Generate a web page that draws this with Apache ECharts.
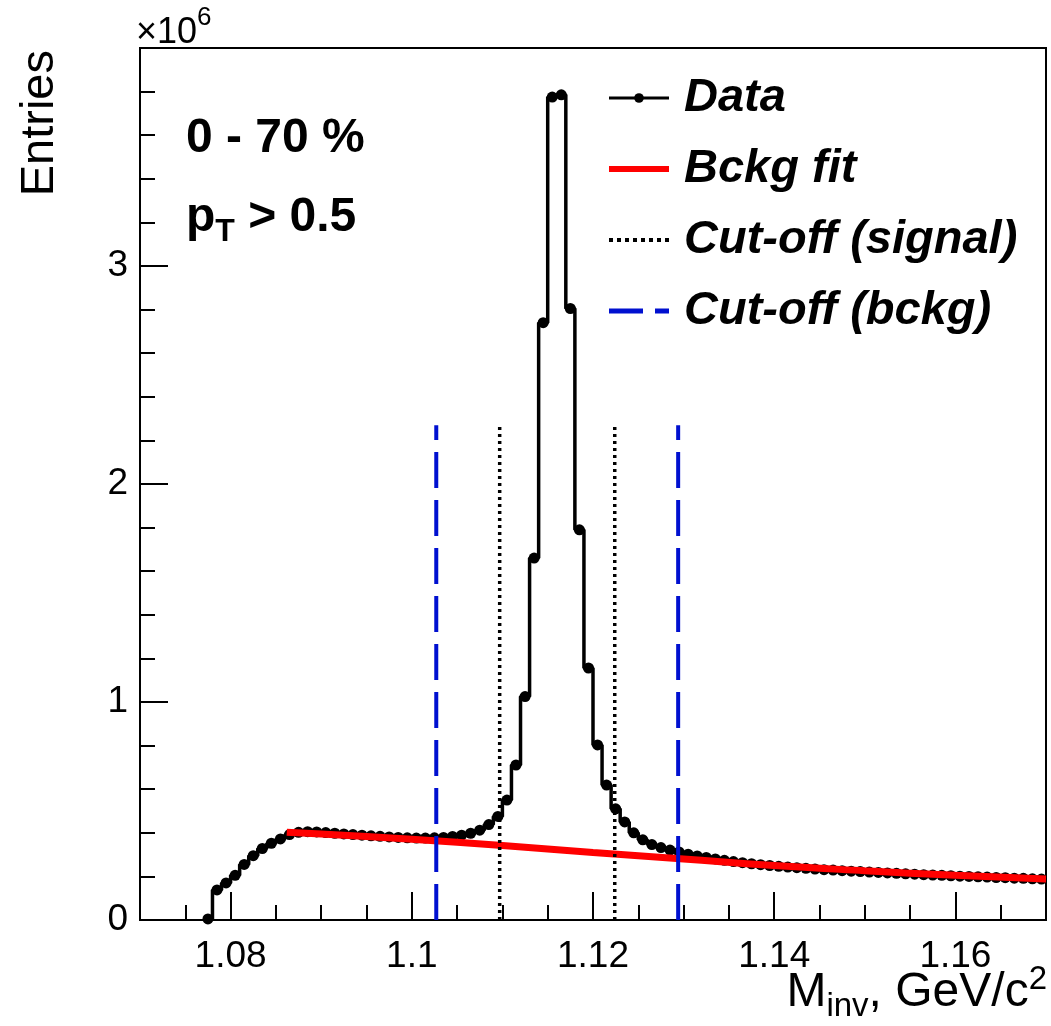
<!DOCTYPE html>
<html>
<head>
<meta charset="utf-8">
<script src="https://cdn.jsdelivr.net/npm/echarts@6/dist/echarts.min.js"></script>
<style>html,body{margin:0;padding:0;background:#fff}#c{width:1051px;height:1026px}</style>
</head>
<body>
<div id="c"></div>
<script>
// Histogram binning (GeV/c^2)
const binStart = 1.077;
const binWidth = 0.001;
// Entries per bin, in units of 10^6 (bins 1.077-1.078 ... 1.169-1.170)
const counts = [
  0.005, 0.138, 0.170, 0.205, 0.255, 0.295, 0.328, 0.352, 0.372, 0.392,
  0.402, 0.405, 0.404, 0.401, 0.398, 0.395, 0.392, 0.389, 0.386, 0.384,
  0.381, 0.379, 0.377, 0.376, 0.376, 0.377, 0.379, 0.383, 0.389, 0.398,
  0.412, 0.438, 0.475, 0.550, 0.711, 1.025, 1.660, 2.740, 3.775, 3.785,
  2.805, 1.790, 1.156, 0.803, 0.619, 0.510, 0.450, 0.400, 0.368, 0.346,
  0.332, 0.321, 0.312, 0.302, 0.294, 0.287, 0.280, 0.274, 0.268, 0.263,
  0.258, 0.254, 0.250, 0.246, 0.243, 0.240, 0.237, 0.234, 0.231, 0.229,
  0.226, 0.224, 0.222, 0.220, 0.218, 0.216, 0.214, 0.212, 0.210, 0.208,
  0.206, 0.205, 0.203, 0.201, 0.200, 0.198, 0.197, 0.195, 0.194, 0.192,
  0.191, 0.189, 0.188
];
// Background fit curve (x in GeV/c^2, y in 10^6)
const fitX = [1.0862, 1.09, 1.10, 1.11, 1.12, 1.13, 1.14, 1.15, 1.16, 1.17];
const fitY = [0.402, 0.394, 0.370, 0.342, 0.310, 0.280, 0.250, 0.226, 0.205, 0.188];
// Cut-off lines
const cutSignal = [1.1097, 1.1224];
const cutBckg = [1.1027, 1.1294];
const cutTop = 2.27;
// Axes
const xMajor = [1.08, 1.10, 1.12, 1.14, 1.16];
const xTickLabels = ['1.08', '1.1', '1.12', '1.14', '1.16'];
const xMinor = [1.07, 1.075, 1.085, 1.09, 1.095, 1.105, 1.11, 1.115, 1.125, 1.13, 1.135, 1.145, 1.15, 1.155, 1.165];
const yLabelValues = [0, 1, 2, 3];
const legendNames = ['Data', 'Bckg fit', 'Cut-off (signal)', 'Cut-off (bckg)'];

const FONT = "'Liberation Sans', Arial, Helvetica, sans-serif";
const centers = counts.map((_, i) => binStart + binWidth * (i + 0.5));
const dataPts = counts.map((v, i) => [centers[i], v]);
const fitPts = fitX.map((x, i) => [x, fitY[i]]);

function xLabel(v) {
  for (let i = 0; i < xMajor.length; i++) if (Math.abs(v - xMajor[i]) < 1e-9) return xTickLabels[i];
  return '';
}
function vline(name, x, style) {
  return { name: name, type: 'line', data: [[x, 0], [x, cutTop]], symbol: 'none',
    itemStyle: { color: style.color }, lineStyle: style, z: 5, silent: true };
}
const sigStyle = { color: '#000', width: 3.5, type: [3, 4] };
const bkgStyle = { color: '#0010d0', width: 4, type: [36, 12] };

const legendData = [
  { name: legendNames[0], lineStyle: { width: 3 } },
  { name: legendNames[1], itemStyle: { opacity: 0 }, lineStyle: { width: 6, color: '#ff0000' } },
  { name: legendNames[2], itemStyle: { opacity: 0 }, lineStyle: { width: 4, color: '#000', type: [4, 4] } },
  { name: legendNames[3], itemStyle: { opacity: 0 }, lineStyle: { width: 5, color: '#0010d0', type: [34, 12] } }
];

const chart = echarts.init(document.getElementById('c'), null, { renderer: 'canvas' });
chart.setOption({
  animation: false,
  backgroundColor: '#fff',
  grid: { left: 140, top: 48, width: 906, height: 872, show: true, borderColor: '#000', borderWidth: 2, backgroundColor: 'transparent' },
  xAxis: [{
    type: 'value', min: 1.07, max: 1.17, position: 'bottom',
    axisLine: { onZero: false, lineStyle: { color: '#000', width: 2 } },
    axisTick: { inside: true, length: 28, customValues: xMajor, lineStyle: { color: '#000', width: 2 } },
    axisLabel: { customValues: xMajor, formatter: xLabel, fontSize: 37, color: '#000', fontFamily: FONT, margin: 18 },
    splitLine: { show: false }
  }, {
    type: 'value', min: 1.07, max: 1.17, position: 'bottom',
    axisLine: { show: false },
    axisTick: { inside: true, length: 15, customValues: xMinor, lineStyle: { color: '#000', width: 2 } },
    axisLabel: { show: false },
    splitLine: { show: false }
  }],
  yAxis: {
    type: 'value', min: 0, max: 4, interval: 1,
    axisLine: { onZero: false, lineStyle: { color: '#000', width: 2 } },
    axisTick: { inside: true, length: 28, lineStyle: { color: '#000', width: 2 } },
    minorTick: { show: true, splitNumber: 5, length: 15, lineStyle: { color: '#000', width: 2 } },
    axisLabel: { customValues: yLabelValues, fontSize: 37, color: '#000', fontFamily: FONT, margin: 12 },
    splitLine: { show: false }, minorSplitLine: { show: false }
  },
  legend: {
    data: legendData, orient: 'vertical', left: 601, top: 68,
    itemWidth: 60, itemHeight: 12, itemGap: 21, selectedMode: false,
    textStyle: { fontSize: 47, fontWeight: 'bold', fontStyle: 'italic', fontFamily: FONT, color: '#000', lineHeight: 50, padding: [0, 0, 0, 10] }
  },
  series: [
    { name: 'Data', type: 'line', step: 'middle', data: dataPts, symbol: 'circle', symbolSize: 11,
      itemStyle: { color: '#000' }, lineStyle: { color: '#000', width: 3.5 }, z: 2, silent: true },
    { name: 'Bckg fit', type: 'line', smooth: true, data: fitPts, symbol: 'none',
      itemStyle: { color: '#ff0000' }, lineStyle: { color: '#ff0000', width: 7 }, z: 3, silent: true },
    vline('Cut-off (signal)', cutSignal[0], sigStyle),
    vline('Cut-off (signal)', cutSignal[1], sigStyle),
    vline('Cut-off (bckg)', cutBckg[0], bkgStyle),
    vline('Cut-off (bckg)', cutBckg[1], bkgStyle)
  ],
  graphic: [
    { type: 'text', left: 136, top: 5, style: {
        text: '{a|×10}{b|6}', fill: '#000',
        rich: { a: { fontSize: 36, fontFamily: FONT, lineHeight: 56 }, b: { fontSize: 26, fontFamily: FONT, lineHeight: 26, verticalAlign: 'top' } } } },
    { type: 'text', x: 40, y: 50, rotation: Math.PI / 2, style: {
        text: 'Entries', fill: '#000', fontSize: 47, fontFamily: FONT, align: 'right', verticalAlign: 'middle' } },
    { type: 'text', x: 186, y: 139, style: {
        text: '0 - 70 %', fill: '#000', fontSize: 48, fontWeight: 'bold', fontFamily: FONT, align: 'left', verticalAlign: 'middle' } },
    { type: 'text', x: 186, y: 188, style: {
        text: '{m|p}{s|T}{m| > 0.5}', fill: '#000', align: 'left', verticalAlign: 'top',
        rich: { m: { fontSize: 48, fontWeight: 'bold', fontFamily: FONT, lineHeight: 60 },
                s: { fontSize: 32, fontWeight: 'bold', fontFamily: FONT, lineHeight: 22, verticalAlign: 'bottom' } } } },
    { type: 'text', x: 1047, y: 963, style: {
        text: '{m|M}{s|inv}{m|, GeV/c}{p|2}', fill: '#000', align: 'right', verticalAlign: 'top',
        rich: { m: { fontSize: 48, fontFamily: FONT, lineHeight: 60 },
                s: { fontSize: 33, fontFamily: FONT, lineHeight: 20, verticalAlign: 'bottom' },
                p: { fontSize: 33, fontFamily: FONT, lineHeight: 16, verticalAlign: 'top' } } } }
  ]
});
</script>
</body>
</html>
